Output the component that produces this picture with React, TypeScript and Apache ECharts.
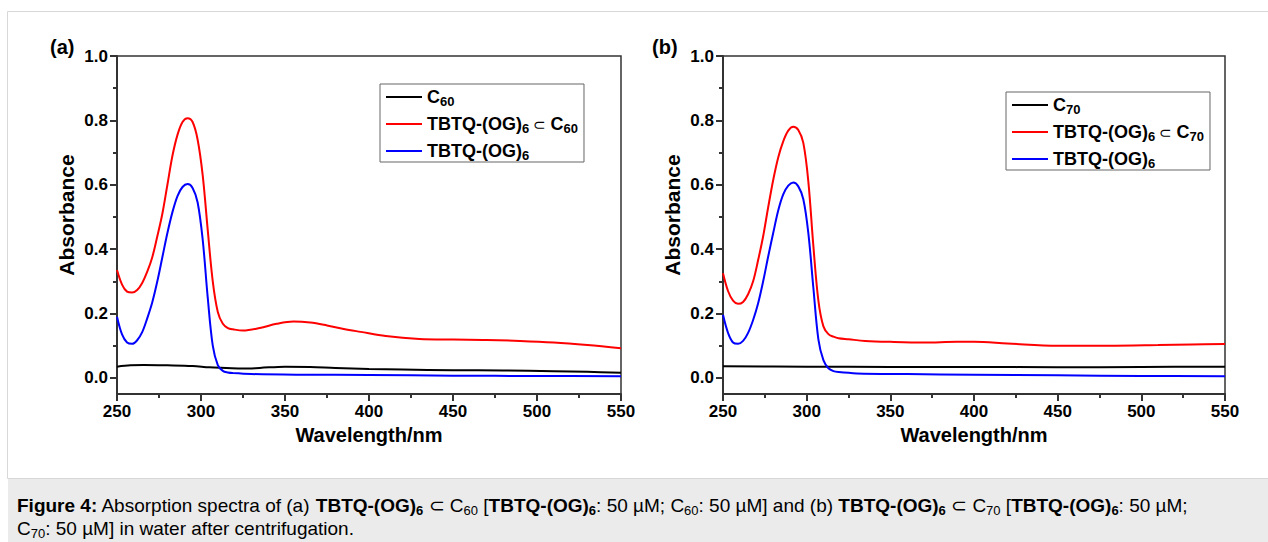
import React, { useEffect, useRef } from "react";
import * as echarts from "echarts";

// ---- axis ticks ----
const xMin = 250;
const xMax = 550;
const xInterval = 50;
const yMajorTicks = [0, 0.2, 0.4, 0.6, 0.8, 1.0];
const yMinorTicks = [0.1, 0.3, 0.5, 0.7, 0.9];

// ---- panel (a) data ----
const wlC60 = [250, 258, 266, 280, 295, 305, 315, 325, 335, 350, 365, 380, 400, 420, 450, 480, 510, 530, 550];
const absC60 = [0.035, 0.039, 0.040, 0.039, 0.037, 0.033, 0.031, 0.029, 0.031, 0.035, 0.034, 0.031, 0.028, 0.026, 0.024, 0.023, 0.021, 0.019, 0.016];

const wlComplexA = [250, 253, 256, 259, 262, 265, 268, 271, 274, 277, 280, 283, 286, 289, 292, 295, 298, 301, 304, 307, 310, 313, 316, 319, 325, 335, 345, 355, 365, 375, 385, 395, 410, 430, 450, 470, 490, 510, 530, 550];
const absComplexA = [0.335, 0.29, 0.268, 0.265, 0.273, 0.295, 0.33, 0.375, 0.44, 0.51, 0.6, 0.69, 0.755, 0.795, 0.807, 0.795, 0.74, 0.63, 0.46, 0.3, 0.205, 0.168, 0.155, 0.151, 0.147, 0.155, 0.168, 0.175, 0.172, 0.163, 0.152, 0.143, 0.13, 0.121, 0.119, 0.118, 0.115, 0.11, 0.102, 0.092];

const wlHostA = [250, 253, 256, 259, 262, 265, 268, 271, 274, 277, 280, 283, 286, 289, 292, 295, 298, 301, 304, 307, 310, 313, 316, 319, 330, 360, 400, 450, 500, 550];
const absHostA = [0.19, 0.135, 0.11, 0.106, 0.117, 0.142, 0.185, 0.235, 0.3, 0.375, 0.45, 0.515, 0.565, 0.593, 0.602, 0.59, 0.545, 0.43, 0.25, 0.1, 0.04, 0.022, 0.017, 0.015, 0.012, 0.01, 0.009, 0.007, 0.006, 0.005];

// ---- panel (b) data ----
const wlC70 = [250, 300, 350, 400, 450, 500, 550];
const absC70 = [0.036, 0.035, 0.034, 0.034, 0.033, 0.034, 0.035];

const wlComplexB = [250, 253, 256, 259, 262, 265, 268, 271, 274, 277, 280, 283, 286, 289, 292, 295, 298, 301, 304, 307, 310, 313, 316, 319, 325, 335, 350, 370, 390, 400, 420, 450, 480, 510, 530, 550];
const absComplexB = [0.325, 0.27, 0.24, 0.23, 0.236, 0.26, 0.3, 0.366, 0.44, 0.53, 0.615, 0.685, 0.735, 0.768, 0.78, 0.77, 0.73, 0.61, 0.41, 0.24, 0.16, 0.136, 0.128, 0.123, 0.12, 0.115, 0.112, 0.11, 0.112, 0.112, 0.107, 0.1, 0.1, 0.102, 0.104, 0.105];

const wlHostB = [250, 253, 256, 259, 262, 265, 268, 271, 274, 277, 280, 283, 286, 289, 292, 295, 298, 301, 304, 307, 310, 313, 316, 319, 330, 360, 400, 450, 500, 550];
const absHostB = [0.196, 0.14, 0.11, 0.106, 0.115, 0.14, 0.18, 0.232, 0.3, 0.377, 0.45, 0.52, 0.57, 0.597, 0.607, 0.595, 0.555, 0.45, 0.28, 0.12, 0.055, 0.03, 0.021, 0.018, 0.014, 0.012, 0.01, 0.008, 0.006, 0.005];

// ---- names ----
const nameC60 = "C60";
const nameComplexA = "TBTQ-(OG)6 ⊂ C60";
const nameHost = "TBTQ-(OG)6";
const nameC70 = "C70";
const nameComplexB = "TBTQ-(OG)6 ⊂ C70";

const legendLabels: Record<string, string> = {
  [nameC60]: "{b|C}{s|60}",
  [nameComplexA]: "{b|TBTQ-(OG)}{s|6}{n| ⊂ }{b|C}{s|60}",
  [nameHost]: "{b|TBTQ-(OG)}{s|6}",
  [nameC70]: "{b|C}{s|70}",
  [nameComplexB]: "{b|TBTQ-(OG)}{s|6}{n| ⊂ }{b|C}{s|70}",
};

const FONT = "'Liberation Sans', Arial, Helvetica, sans-serif";
const AXIS_COLOR = "#333";

const zip = (xs: number[], ys: number[]) => xs.map((x, i) => [x, ys[i]]);

function xAxisFor(gridIndex: number) {
  return {
    type: "value",
    gridIndex,
    min: xMin,
    max: xMax,
    interval: xInterval,
    axisLine: { show: true, onZero: false, lineStyle: { color: AXIS_COLOR, width: 2 } },
    axisTick: { show: true, length: 7, lineStyle: { color: AXIS_COLOR, width: 2 } },
    minorTick: { show: true, splitNumber: 2, length: 4, lineStyle: { color: AXIS_COLOR, width: 2 } },
    splitLine: { show: false },
    axisLabel: { color: "#000", fontWeight: "bold", fontSize: 17, fontFamily: FONT, margin: 9 },
    name: "Wavelength/nm",
    nameLocation: "middle",
    nameGap: 30,
    nameTextStyle: { color: "#000", fontWeight: "bold", fontSize: 20, fontFamily: FONT },
  };
}

function yAxesFor(gridIndex: number) {
  return [
    {
      type: "value",
      gridIndex,
      position: "left",
      min: -0.05,
      max: 1.0,
      axisLine: { show: true, lineStyle: { color: AXIS_COLOR, width: 2 } },
      axisTick: { show: true, customValues: yMajorTicks, length: 7, lineStyle: { color: AXIS_COLOR, width: 2 } },
      axisLabel: {
        customValues: yMajorTicks,
        formatter: (v: number) => v.toFixed(1),
        color: "#000",
        fontWeight: "bold",
        fontSize: 17,
        fontFamily: FONT,
        margin: 9,
      },
      splitLine: { show: false },
      name: "Absorbance",
      nameLocation: "middle",
      nameRotate: 90,
      nameGap: 40,
      nameTextStyle: { color: "#000", fontWeight: "bold", fontSize: 21, fontFamily: FONT, padding: [0, 0, 0, 20] },
    },
    {
      type: "value",
      gridIndex,
      position: "left",
      min: -0.05,
      max: 1.0,
      axisLine: { show: false },
      axisTick: { show: true, customValues: yMinorTicks, length: 4, lineStyle: { color: AXIS_COLOR, width: 2 } },
      axisLabel: { show: false },
      splitLine: { show: false },
    },
  ];
}

function lineSeries(name: string, xs: number[], ys: number[], color: string, xAxisIndex: number, yAxisIndex: number) {
  return {
    type: "line",
    name,
    xAxisIndex,
    yAxisIndex,
    data: zip(xs, ys),
    symbol: "none",
    smooth: 0.35,
    color,
    lineStyle: { color, width: 2 },
  };
}

const legendRich = {
  b: { fontWeight: "bold", fontSize: 18, fontFamily: FONT, color: "#000", lineHeight: 22 },
  n: { fontWeight: "normal", fontSize: 15, fontFamily: FONT, color: "#000", lineHeight: 22 },
  s: { fontWeight: "bold", fontSize: 13, fontFamily: FONT, color: "#000", lineHeight: 11, verticalAlign: "bottom" },
};

function legendFor(names: string[], left: number, top: number) {
  return {
    show: true,
    data: names,
    orient: "vertical",
    left,
    top,
    padding: [4, 6, 0, 6],
    itemGap: 7,
    itemWidth: 36,
    itemHeight: 2,
    icon: "rect",
    selectedMode: false,
    borderColor: "#666",
    borderWidth: 1,
    formatter: (n: string) => legendLabels[n] ?? n,
    textStyle: { rich: legendRich },
  };
}

const capRich = {
  r: { fontSize: 19, fontFamily: FONT, color: "#222", lineHeight: 22 },
  b: { fontSize: 19, fontFamily: FONT, color: "#222", fontWeight: "bold", lineHeight: 22 },
  s: { fontSize: 13, fontFamily: FONT, color: "#222", lineHeight: 11, verticalAlign: "bottom" },
  bs: { fontSize: 13, fontFamily: FONT, color: "#222", fontWeight: "bold", lineHeight: 11, verticalAlign: "bottom" },
};

const captionLine1 =
  "{b|Figure 4:}{r| Absorption spectra of (a) }{b|TBTQ-(OG)}{bs|6}{r| ⊂ C}{s|60}{r| [}{b|TBTQ-(OG)}{bs|6}{r|: 50 µM; C}{s|60}{r|: 50 µM] and (b) }{b|TBTQ-(OG)}{bs|6}{r| ⊂ C}{s|70}{r| [}{b|TBTQ-(OG)}{bs|6}{r|: 50 µM;}";
const captionLine2 = "{r|C}{s|70}{r|: 50 µM] in water after centrifugation.}";

export default function App() {
  const ref = useRef<HTMLDivElement>(null);

  useEffect(() => {
    document.body.style.margin = "0";
    if (!ref.current) return;
    const chart = echarts.init(ref.current, undefined, { renderer: "svg" });
    chart.setOption({
      animation: false,
      backgroundColor: "#fff",
      grid: [
        { left: 117, top: 56, width: 504, height: 338, show: true, borderColor: AXIS_COLOR, borderWidth: 1.5, backgroundColor: "transparent" },
        { left: 723, top: 56, width: 502, height: 338, show: true, borderColor: AXIS_COLOR, borderWidth: 1.5, backgroundColor: "transparent" },
      ],
      xAxis: [xAxisFor(0), xAxisFor(1)],
      yAxis: [...yAxesFor(0), ...yAxesFor(1)],
      legend: [
        legendFor([nameC60, nameComplexA, nameHost], 380, 84),
        legendFor([nameC70, nameComplexB, nameHost], 1006, 92),
      ],
      series: [
        lineSeries(nameC60, wlC60, absC60, "#000000", 0, 0),
        lineSeries(nameComplexA, wlComplexA, absComplexA, "#ff0000", 0, 0),
        lineSeries(nameHost, wlHostA, absHostA, "#0000ff", 0, 0),
        lineSeries(nameC70, wlC70, absC70, "#000000", 1, 2),
        lineSeries(nameComplexB, wlComplexB, absComplexB, "#ff0000", 1, 2),
        lineSeries(nameHost, wlHostB, absHostB, "#0000ff", 1, 2),
      ],
      graphic: [
        {
          type: "rect",
          z: -10,
          silent: true,
          shape: { x: 7.5, y: 11.5, width: 1270, height: 467 },
          style: { fill: "#fff", stroke: "#d8d8d8", lineWidth: 1 },
        },
        {
          type: "rect",
          z: -9,
          silent: true,
          shape: { x: 8, y: 479, width: 1260, height: 63 },
          style: { fill: "#ebebeb" },
        },
        {
          type: "text",
          left: 50,
          top: 37,
          style: { text: "(a)", fontSize: 20, fontWeight: "bold", fontFamily: FONT, fill: "#000" },
        },
        {
          type: "text",
          left: 652,
          top: 37,
          style: { text: "(b)", fontSize: 20, fontWeight: "bold", fontFamily: FONT, fill: "#000" },
        },
        {
          type: "text",
          left: 17,
          top: 496,
          style: { text: captionLine1, rich: capRich, fontFamily: FONT },
        },
        {
          type: "text",
          left: 17,
          top: 519,
          style: { text: captionLine2, rich: capRich, fontFamily: FONT },
        },
      ],
    });
    return () => chart.dispose();
  }, []);

  return <div ref={ref} style={{ width: 1268, height: 542 }} />;
}
